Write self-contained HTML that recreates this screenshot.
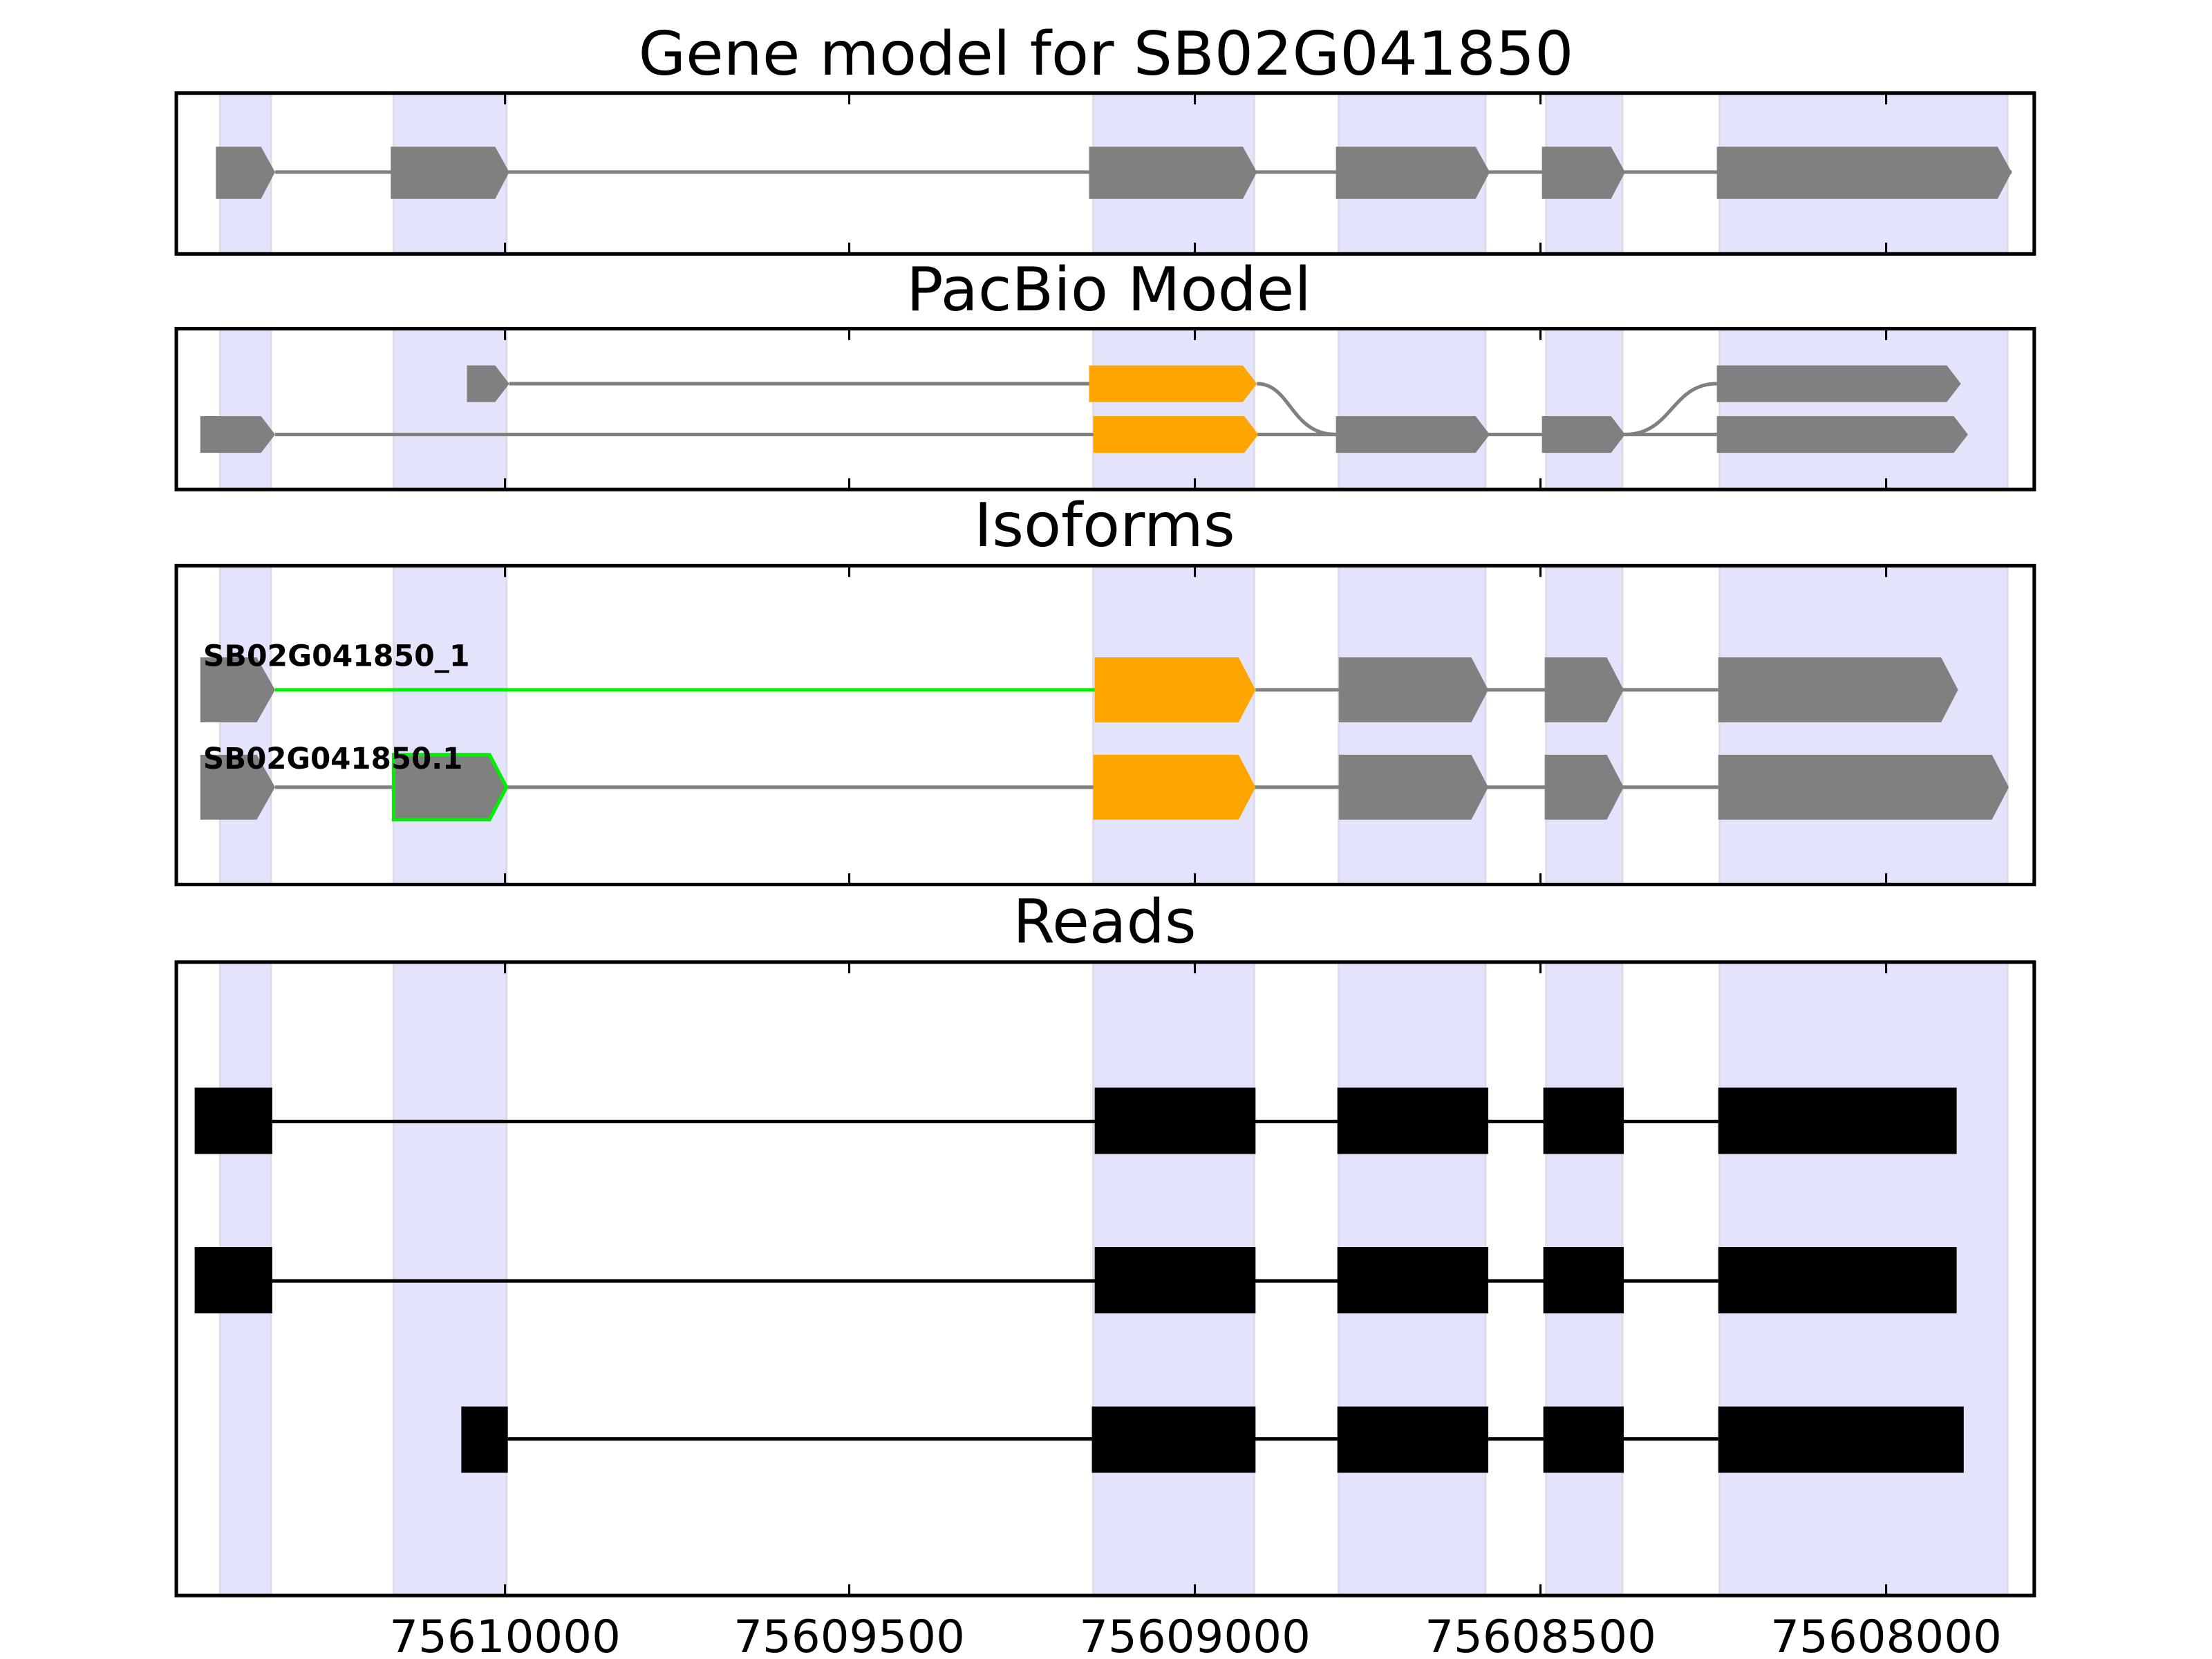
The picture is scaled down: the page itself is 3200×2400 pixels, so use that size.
<!DOCTYPE html>
<html><head><meta charset="utf-8"><style>html,body{margin:0;padding:0;background:#fff}svg{display:block}</style></head>
<body>
<svg width="3200" height="2400" viewBox="0 0 1568 1176" xmlns="http://www.w3.org/2000/svg" font-family="'DejaVu Sans','Liberation Sans',sans-serif">
<defs>
<g id="bands">
<rect x="156" y="0" width="36" height="1176" fill="#e3e3fc" stroke="#dcdce8" stroke-width="1.5"/>
<rect x="279" y="0" width="80" height="1176" fill="#e3e3fc" stroke="#dcdce8" stroke-width="1.5"/>
<rect x="775" y="0" width="114" height="1176" fill="#e3e3fc" stroke="#dcdce8" stroke-width="1.5"/>
<rect x="949" y="0" width="104" height="1176" fill="#e3e3fc" stroke="#dcdce8" stroke-width="1.5"/>
<rect x="1096" y="0" width="54" height="1176" fill="#e3e3fc" stroke="#dcdce8" stroke-width="1.5"/>
<rect x="1219" y="0" width="204" height="1176" fill="#e3e3fc" stroke="#dcdce8" stroke-width="1.5"/>
</g>
<clipPath id="c1"><rect x="125" y="66" width="1317" height="114"/></clipPath>
<clipPath id="c2"><rect x="125" y="233" width="1317" height="114"/></clipPath>
<clipPath id="c3"><rect x="125" y="401" width="1317" height="226"/></clipPath>
<clipPath id="c4"><rect x="125" y="682" width="1317" height="449"/></clipPath>
</defs>
<g font-size="43" text-anchor="middle">
<text x="784" y="53" textLength="663" lengthAdjust="spacingAndGlyphs">Gene model for SB02G041850</text>
<text x="786" y="220" textLength="287" lengthAdjust="spacingAndGlyphs">PacBio Model</text>
<text x="783" y="387" textLength="185" lengthAdjust="spacingAndGlyphs">Isoforms</text>
<text x="783" y="668" textLength="130" lengthAdjust="spacingAndGlyphs">Reads</text>
</g>
<!-- panel 1 -->
<g clip-path="url(#c1)"><use href="#bands"/></g>
<line x1="195" y1="122" x2="1426" y2="122" stroke="#808080" stroke-width="2.5"/>
<g fill="#808080">
<polygon points="153,104 185,104 195,122 185,141 153,141"/>
<polygon points="277,104 351,104 361,122 351,141 277,141"/>
<polygon points="772,104 881,104 891,122 881,141 772,141"/>
<polygon points="947,104 1046,104 1056,122 1046,141 947,141"/>
<polygon points="1093,104 1142,104 1152,122 1142,141 1093,141"/>
<polygon points="1217,104 1416,104 1426,122 1416,141 1217,141"/>
</g>
<!-- panel 2 -->
<g clip-path="url(#c2)"><use href="#bands"/></g>
<g stroke="#808080" stroke-width="2.5" fill="none">
<line x1="361" y1="272" x2="772" y2="272"/>
<line x1="195" y1="308" x2="1217" y2="308"/>
<path d="M891,272 C915,272 915,308 947,308"/>
<path d="M1152,308 C1185,308 1185,272 1217,272"/>
</g>
<g fill="#808080">
<polygon points="331,259 351,259 361,272 351,285 331,285"/>
<polygon points="1217,259 1380,259 1390,272 1380,285 1217,285"/>
<polygon points="142,295 185,295 195,308 185,321 142,321"/>
<polygon points="947,295 1046,295 1056,308 1046,321 947,321"/>
<polygon points="1093,295 1142,295 1152,308 1142,321 1093,321"/>
<polygon points="1217,295 1385,295 1395,308 1385,321 1217,321"/>
</g>
<g fill="#ffa500">
<polygon points="772,259 881,259 891,272 881,285 772,285"/>
<polygon points="775,295 882,295 892,308 882,321 775,321"/>
</g>
<!-- panel 3 -->
<g clip-path="url(#c3)"><use href="#bands"/></g>
<line x1="195" y1="489" x2="776" y2="489" stroke="#00ee00" stroke-width="2.5"/>
<line x1="890" y1="489" x2="1218" y2="489" stroke="#808080" stroke-width="2.5"/>
<line x1="195" y1="558" x2="1218" y2="558" stroke="#808080" stroke-width="2.5"/>
<g fill="#808080">
<polygon points="142,466 182,466 195,489 182,512 142,512"/>
<polygon points="949,466 1043,466 1055,489 1043,512 949,512"/>
<polygon points="1095,466 1139,466 1151,489 1139,512 1095,512"/>
<polygon points="1218,466 1376,466 1388,489 1376,512 1218,512"/>
<polygon points="142,535 182,535 195,558 182,581 142,581"/>
<polygon points="279,535 347,535 359,558 347,581 279,581" stroke="#00ee00" stroke-width="2.5"/>
<polygon points="949,535 1043,535 1055,558 1043,581 949,581"/>
<polygon points="1095,535 1139,535 1151,558 1139,581 1095,581"/>
<polygon points="1218,535 1412,535 1424,558 1412,581 1218,581"/>
</g>
<g fill="#ffa500">
<polygon points="776,466 878,466 890,489 878,512 776,512"/>
<polygon points="775,535 878,535 890,558 878,581 775,581"/>
</g>
<g font-size="21" font-weight="bold">
<text x="144" y="472" textLength="189" lengthAdjust="spacingAndGlyphs">SB02G041850_1</text>
<text x="144" y="545" textLength="184" lengthAdjust="spacingAndGlyphs">SB02G041850.1</text>
</g>
<!-- panel 4 -->
<g clip-path="url(#c4)"><use href="#bands"/></g>
<g stroke="#000" stroke-width="2.5">
<line x1="193" y1="795" x2="1218" y2="795"/>
<line x1="193" y1="908" x2="1218" y2="908"/>
<line x1="360" y1="1020" x2="1218" y2="1020"/>
</g>
<g fill="#000">
<rect x="138" y="771" width="55" height="47"/><rect x="776" y="771" width="114" height="47"/><rect x="948" y="771" width="107" height="47"/><rect x="1094" y="771" width="57" height="47"/><rect x="1218" y="771" width="169" height="47"/>
<rect x="138" y="884" width="55" height="47"/><rect x="776" y="884" width="114" height="47"/><rect x="948" y="884" width="107" height="47"/><rect x="1094" y="884" width="57" height="47"/><rect x="1218" y="884" width="169" height="47"/>
<rect x="327" y="997" width="33" height="47"/><rect x="774" y="997" width="116" height="47"/><rect x="948" y="997" width="107" height="47"/><rect x="1094" y="997" width="57" height="47"/><rect x="1218" y="997" width="174" height="47"/>
</g>
<!-- frames and ticks -->
<g fill="none" stroke="#000" stroke-width="2.5">
<rect x="125" y="66" width="1317" height="114"/>
<rect x="125" y="233" width="1317" height="114"/>
<rect x="125" y="401" width="1317" height="226"/>
<rect x="125" y="682" width="1317" height="449"/>
</g>
<g stroke="#000" stroke-width="1.5">
<path d="M358,66v8M602,66v8M847,66v8M1092,66v8M1337,66v8M358,180v-8M602,180v-8M847,180v-8M1092,180v-8M1337,180v-8"/>
<path d="M358,233v8M602,233v8M847,233v8M1092,233v8M1337,233v8M358,347v-8M602,347v-8M847,347v-8M1092,347v-8M1337,347v-8"/>
<path d="M358,401v8M602,401v8M847,401v8M1092,401v8M1337,401v8M358,627v-8M602,627v-8M847,627v-8M1092,627v-8M1337,627v-8"/>
<path d="M358,682v8M602,682v8M847,682v8M1092,682v8M1337,682v8M358,1131v-8M602,1131v-8M847,1131v-8M1092,1131v-8M1337,1131v-8"/>
</g>
<g font-size="32" text-anchor="middle">
<text x="358" y="1171" textLength="164" lengthAdjust="spacingAndGlyphs">75610000</text>
<text x="602" y="1171" textLength="164" lengthAdjust="spacingAndGlyphs">75609500</text>
<text x="847" y="1171" textLength="164" lengthAdjust="spacingAndGlyphs">75609000</text>
<text x="1092" y="1171" textLength="164" lengthAdjust="spacingAndGlyphs">75608500</text>
<text x="1337" y="1171" textLength="164" lengthAdjust="spacingAndGlyphs">75608000</text>
</g>
</svg>
</body></html>
